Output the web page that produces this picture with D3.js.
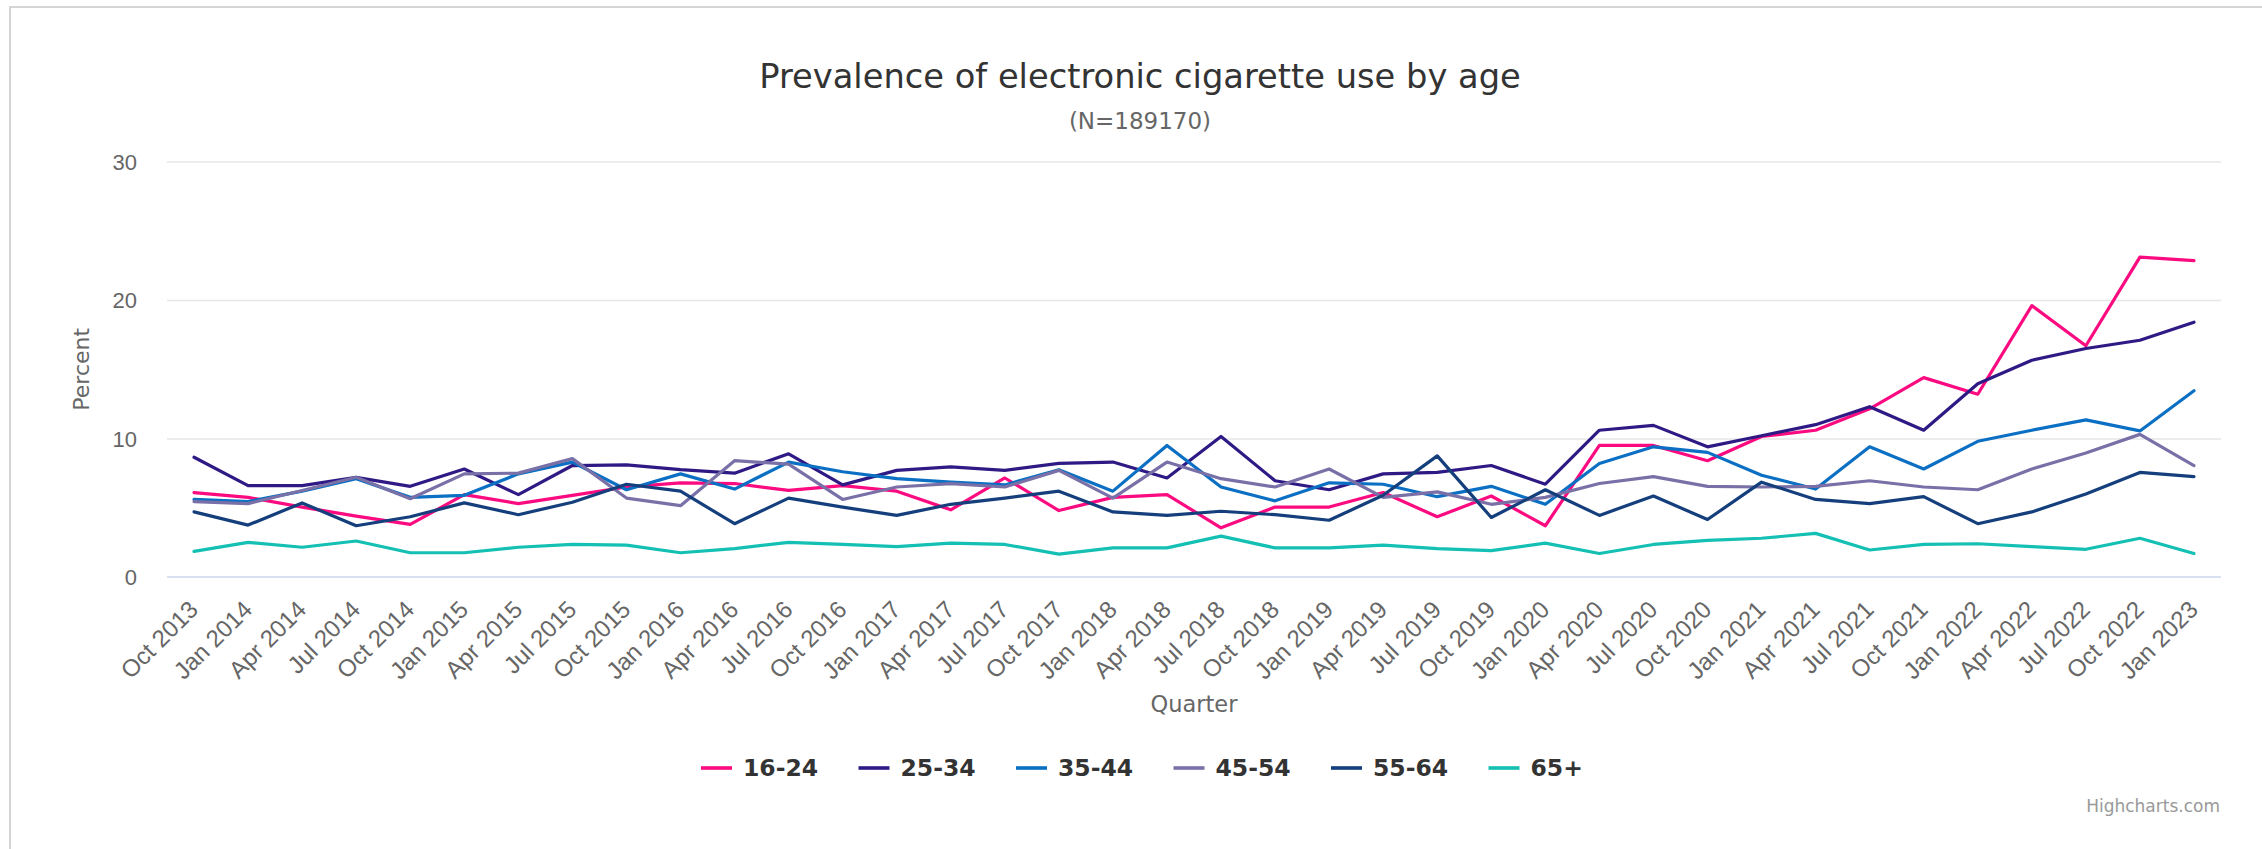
<!DOCTYPE html>
<html>
<head>
<meta charset="utf-8">
<script src="https://cdn.jsdelivr.net/npm/d3@7/dist/d3.min.js"></script>
<style>
  html, body { margin: 0; padding: 0; background: #fff; }
  svg { display: block; font-family: "DejaVu Sans", "Lucida Grande", sans-serif; }
  .grid line { stroke: #e6e6e6; stroke-width: 1.5; }
  .grid path { display: none; }
  .axis text { fill: #666; }
  .axis path, .axis line { display: none; }
</style>
</head>
<body>
<script>
// quarters on the x axis
const quarters = [
  "Oct 2013",
  "Jan 2014", "Apr 2014", "Jul 2014", "Oct 2014",
  "Jan 2015", "Apr 2015", "Jul 2015", "Oct 2015",
  "Jan 2016", "Apr 2016", "Jul 2016", "Oct 2016",
  "Jan 2017", "Apr 2017", "Jul 2017", "Oct 2017",
  "Jan 2018", "Apr 2018", "Jul 2018", "Oct 2018",
  "Jan 2019", "Apr 2019", "Jul 2019", "Oct 2019",
  "Jan 2020", "Apr 2020", "Jul 2020", "Oct 2020",
  "Jan 2021", "Apr 2021", "Jul 2021", "Oct 2021",
  "Jan 2022", "Apr 2022", "Jul 2022", "Oct 2022",
  "Jan 2023"
];

// percent by age group
const age16_24 = [6.1, 5.75, 5.05, 4.4, 3.8, 5.95, 5.3, 5.9, 6.5, 6.8,
                  6.75, 6.25, 6.6, 6.2, 4.85, 7.15, 4.8, 5.75, 5.95, 3.55,
                  5.05, 5.05, 6.1, 4.35, 5.85, 3.7, 9.5, 9.5, 8.4, 10.15,
                  10.6, 12.15, 14.4, 13.2, 19.6, 16.7, 23.1, 22.85];
const age25_34 = [8.65, 6.6, 6.6, 7.2, 6.55, 7.8, 5.95, 8.05, 8.1, 7.75,
                  7.5, 8.9, 6.65, 7.7, 7.95, 7.7, 8.2, 8.3, 7.15, 10.15,
                  6.95, 6.3, 7.45, 7.55, 8.05, 6.7, 10.6, 10.95, 9.4, 10.2,
                  11.0, 12.3, 10.6, 13.95, 15.65, 16.5, 17.1, 18.4];
const age35_44 = [5.6, 5.45, 6.2, 7.1, 5.75, 5.9, 7.45, 8.3, 6.3, 7.45,
                  6.35, 8.3, 7.6, 7.1, 6.85, 6.65, 7.75, 6.2, 9.5, 6.5,
                  5.5, 6.8, 6.7, 5.8, 6.55, 5.25, 8.2, 9.4, 9.0, 7.35,
                  6.35, 9.4, 7.8, 9.8, 10.6, 11.35, 10.55, 13.45];
const age45_54 = [5.45, 5.3, 6.25, 7.2, 5.65, 7.45, 7.5, 8.55, 5.7, 5.15,
                  8.4, 8.15, 5.6, 6.5, 6.75, 6.5, 7.7, 5.7, 8.3, 7.1,
                  6.5, 7.8, 5.75, 6.15, 5.25, 5.75, 6.75, 7.25, 6.55, 6.5,
                  6.55, 6.95, 6.5, 6.3, 7.8, 8.95, 10.3, 8.05];
const age55_64 = [4.7, 3.75, 5.35, 3.7, 4.35, 5.35, 4.5, 5.4, 6.7, 6.2,
                  3.85, 5.7, 5.05, 4.45, 5.25, 5.7, 6.2, 4.7, 4.45, 4.75,
                  4.5, 4.1, 5.9, 8.75, 4.3, 6.3, 4.45, 5.85, 4.15, 6.85,
                  5.6, 5.3, 5.8, 3.85, 4.7, 6.0, 7.55, 7.25];
const age65plus = [1.85, 2.5, 2.15, 2.6, 1.75, 1.75, 2.15, 2.35, 2.3, 1.75,
                   2.05, 2.5, 2.35, 2.2, 2.45, 2.35, 1.65, 2.1, 2.1, 2.95,
                   2.1, 2.1, 2.3, 2.05, 1.9, 2.45, 1.7, 2.35, 2.65, 2.8,
                   3.15, 1.95, 2.35, 2.4, 2.2, 2.0, 2.8, 1.7];

const seriesNames  = ["16-24", "25-34", "35-44", "45-54", "55-64", "65+"];
const seriesValues = [age16_24, age25_34, age35_44, age45_54, age55_64, age65plus];
const seriesColors = ["#fb0a80", "#2f1a85", "#0b6fc3", "#7a70a8", "#143f7c", "#14bfb3"];

const yTicks = [0, 10, 20, 30];

const W = 2262, H = 849;
const plot = { left: 167, right: 2221, top: 161.6, bottom: 577 };

const svg = d3.select("body").append("svg")
    .attr("width", W)
    .attr("height", H);

// frame around the chart container (only top/left visible in the shot)
svg.append("rect")
    .attr("x", 10).attr("y", 7)
    .attr("width", W + 20).attr("height", H + 20)
    .attr("fill", "none")
    .attr("stroke", "#c8c8c8")
    .attr("stroke-width", 1.5);

const x = d3.scalePoint().domain(quarters).range([plot.left, plot.right]).padding(0.5);
const y = d3.scaleLinear().domain([0, 30]).range([plot.bottom, plot.top]);

// horizontal grid lines
svg.append("g").attr("class", "grid")
    .attr("transform", "translate(" + plot.left + ",0)")
    .call(d3.axisLeft(y).tickValues(yTicks.slice(1)).tickFormat("").tickSize(-(plot.right - plot.left)));

// x axis baseline
svg.append("line")
    .attr("x1", plot.left).attr("x2", plot.right)
    .attr("y1", y(0)).attr("y2", y(0))
    .attr("stroke", "#ccd6eb").attr("stroke-width", 1.5);

// y axis labels
svg.append("g").attr("class", "axis y")
    .attr("transform", "translate(" + (plot.left - 22) + ",0)")
    .call(d3.axisLeft(y).tickValues(yTicks).tickSize(0).tickPadding(8))
    .selectAll("text")
    .style("font-size", "22px")
    .attr("dy", "0.35em");

// x axis labels, rotated
svg.append("g").attr("class", "axis x")
    .attr("transform", "translate(0," + plot.bottom + ")")
    .call(d3.axisBottom(x).tickSize(0).tickPadding(0))
    .selectAll("text")
    .style("font-size", "24px")
    .style("text-anchor", "end")
    .attr("dy", 0)
    .attr("transform", "translate(5,34) rotate(-45)");

// axis titles
svg.append("text")
    .attr("x", (plot.left + plot.right) / 2)
    .attr("y", 712)
    .attr("text-anchor", "middle")
    .attr("fill", "#666")
    .style("font-size", "22.5px")
    .text("Quarter");

svg.append("text")
    .attr("transform", "translate(89," + ((plot.top + plot.bottom) / 2) + ") rotate(-90)")
    .attr("text-anchor", "middle")
    .attr("fill", "#666")
    .style("font-size", "22px")
    .text("Percent");

// title + subtitle
svg.append("text")
    .attr("x", 1140).attr("y", 88)
    .attr("text-anchor", "middle")
    .attr("fill", "#333")
    .style("font-size", "33.7px")
    .text("Prevalence of electronic cigarette use by age");

svg.append("text")
    .attr("x", 1140).attr("y", 129)
    .attr("text-anchor", "middle")
    .attr("fill", "#666")
    .style("font-size", "23px")
    .text("(N=189170)");

// lines
const line = d3.line()
    .x(function(d, i) { return x(quarters[i]); })
    .y(function(d) { return y(d); });

svg.append("g").selectAll("path")
    .data(seriesValues)
    .join("path")
    .attr("fill", "none")
    .attr("stroke", function(d, i) { return seriesColors[i]; })
    .attr("stroke-width", 3.2)
    .attr("stroke-linejoin", "round")
    .attr("stroke-linecap", "round")
    .attr("d", line);

// legend
const legendX = d3.scaleLinear().domain([0, 1]).range([701, 858.5]);
const legend = svg.append("g").selectAll("g")
    .data(seriesNames)
    .join("g")
    .attr("transform", function(d, i) { return "translate(" + legendX(i) + ",768)"; });

legend.append("line")
    .attr("x1", 0).attr("x2", 31)
    .attr("stroke", function(d, i) { return seriesColors[i]; })
    .attr("stroke-width", 3.6);

legend.append("text")
    .attr("x", 42)
    .attr("dy", "0.36em")
    .attr("fill", "#333")
    .style("font-size", "23.5px")
    .style("font-weight", "bold")
    .text(function(d) { return d; });

// credits
svg.append("text")
    .attr("x", 2220).attr("y", 812)
    .attr("text-anchor", "end")
    .attr("fill", "#999")
    .style("font-size", "17px")
    .text("Highcharts.com");
</script>
</body>
</html>
